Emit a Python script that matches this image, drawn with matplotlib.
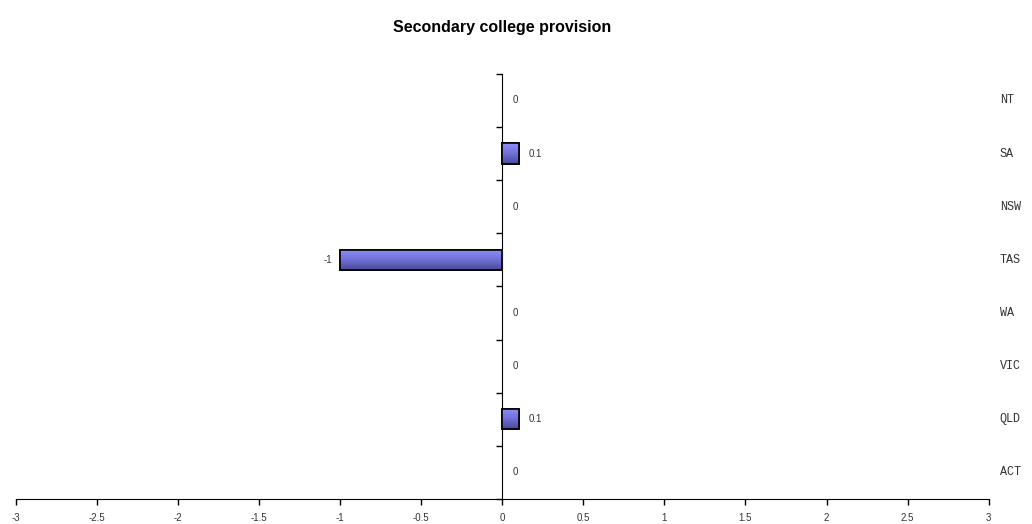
"""Horizontal bar chart of secondary college provision by state."""

import numpy
from matplotlib import pyplot
from matplotlib import transforms

states = ['ACT', 'QLD', 'VIC', 'WA', 'TAS', 'NSW', 'SA', 'NT']
values = [0, 0.1, 0, 0, -1, 0, 0.1, 0]
value_labels = ['0', '0.1', '0', '0', '-1', '0', '0.1', '0']
xticks = [-3, -2.5, -2, -1.5, -1, -0.5, 0, 0.5, 1, 1.5, 2, 2.5, 3]

pyplot.rc('font', family='Liberation Sans', size=7)

fig = pyplot.figure(figsize=(10.32, 5.24), dpi=100)
ax = fig.add_axes([0.0155, 0.0477, 0.9425, 0.8113])

ypos = numpy.arange(len(states))
bar_h = 0.38
bars = ax.barh(ypos, values, height=bar_h, color='#7b7be6',
               edgecolor='black', linewidth=1.2, zorder=3)

# Vertical gradient inside each bar, clipped to the bar patch.
grad = numpy.linspace(0, 1, 64).reshape(-1, 1)
cmap = pyplot.matplotlib.colors.LinearSegmentedColormap.from_list(
    'barfill', ['#8f8ff8', '#7070d8', '#4a4a98'])
for rect, v in zip(bars, values):
    if v == 0:
        rect.set_visible(False)
        continue
    x0, y0 = rect.get_x(), rect.get_y()
    im = ax.imshow(grad, cmap=cmap, aspect='auto', origin='upper',
                   extent=(x0, x0 + rect.get_width(), y0, y0 + bar_h),
                   zorder=3.5)
    im.set_clip_path(rect)
    edge = pyplot.Rectangle((x0, y0), rect.get_width(), bar_h,
                            fill=False, edgecolor='black', linewidth=1.2,
                            zorder=4)
    ax.add_patch(edge)

# Value labels.
offset_r = transforms.offset_copy(ax.transData, fig=fig, x=10, y=0,
                                  units='dots')
offset_l = transforms.offset_copy(ax.transData, fig=fig, x=-8, y=0,
                                  units='dots')
for y, v, lab in zip(ypos, values, value_labels):
    if v < 0:
        ax.text(v, y, lab, transform=offset_l, ha='right', va='center',
                color='#333333')
    else:
        ax.text(v, y, lab, transform=offset_r, ha='left', va='center',
                color='#333333')

# Category labels at the far right.
cat_trans = transforms.offset_copy(ax.get_yaxis_transform(), fig=fig,
                                   x=11, y=0, units='dots')
for y, name in zip(ypos, states):
    ax.text(1.0, y, name, transform=cat_trans, ha='left', va='center',
            family='Liberation Mono', fontsize=8.5, color='#333333',
            clip_on=False)

ax.set_xlim(-3, 3)
ax.set_ylim(-0.5, len(states) - 0.5)
ax.set_xticks(xticks)
ax.set_xticklabels([f'{t:g}' for t in xticks])

# Tick marks at the category boundaries.
ax.set_yticks([])
ax.set_yticks(numpy.arange(-0.5, len(states)), minor=True)
ax.tick_params(axis='y', which='minor', left=True, right=False,
               direction='out', length=4, width=1)
ax.tick_params(axis='x', direction='out', length=4, width=1, pad=6,
               colors='black', labelcolor='#333333')

ax.spines['left'].set_position(('data', 0))
ax.spines['top'].set_visible(False)
ax.spines['right'].set_visible(False)

fig.suptitle('Secondary college provision', fontsize=11.5, fontweight='bold',
             x=0.487, y=0.948, va='center')

fig.savefig('out.png', dpi=100)
